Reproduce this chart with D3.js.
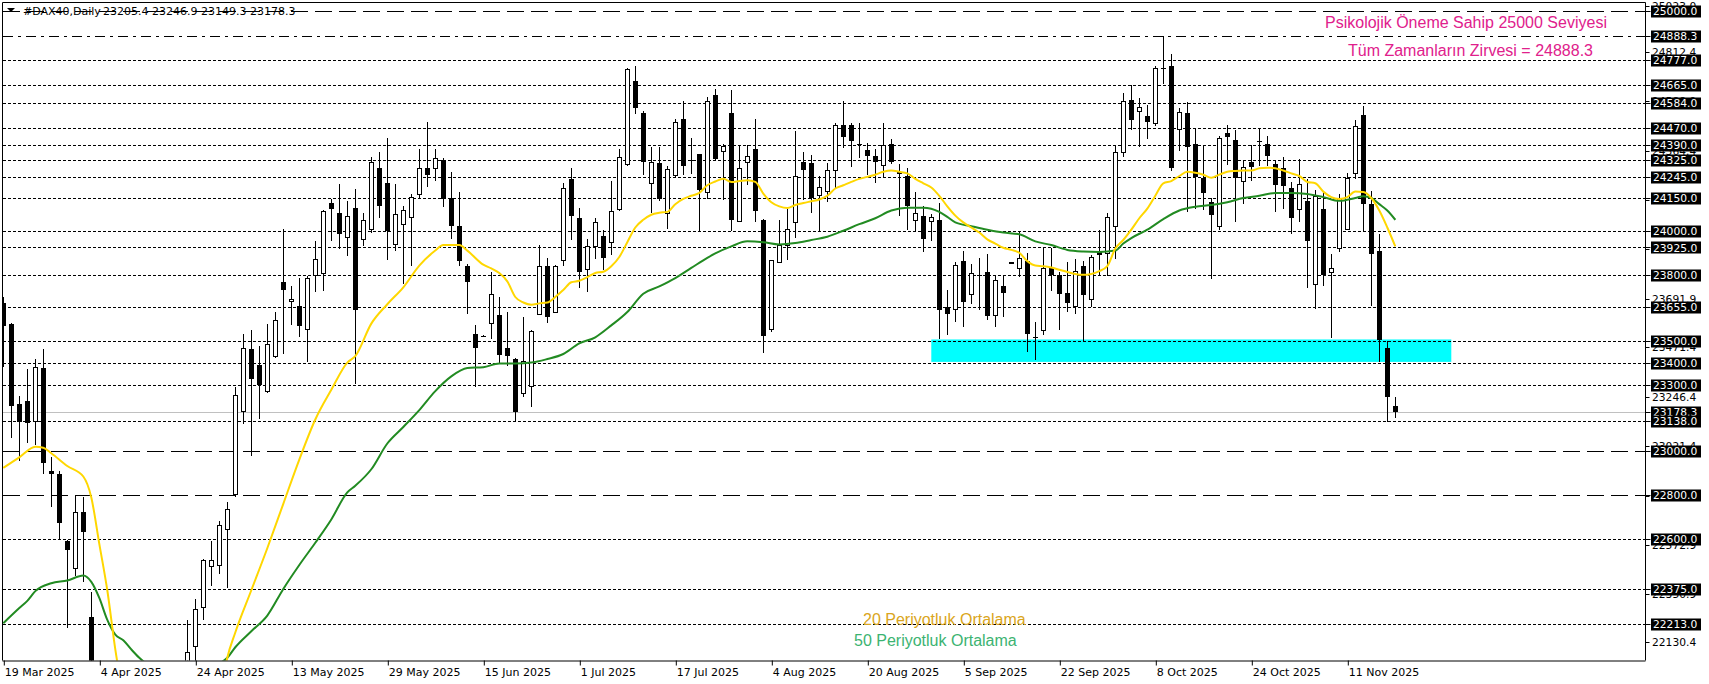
<!DOCTYPE html>
<html><head><meta charset="utf-8">
<script src="https://cdn.jsdelivr.net/npm/d3@7"></script>
<style>body{margin:0;background:#fff}svg{display:block}</style>
</head><body><svg id="c" width="1709" height="684"></svg>
<script>
// ---------- DATA ----------
const openP = [23675,23575,23214,23226,23138,23377,22909,22894,22591,22472,22725,22246,21800,19900,20100,20000,20600,20800,20700,21050,21200,21300,21300,21900,22113,22290,22476,22482,22645,22804,23182,23464,23393,23272,23431,23767,23679,23661,23552,23801,23805,24127,24081,23974,24104,23962,24010,24288,24216,23939,24035,24064,24166,24285,24285,24325,24150,24024,23843,23533,23522,23579,23619,23469,23418,23264,23297,23623,23840,23636,23868,24237,24060,23824,23930,23978,23949,24102,24304,24684,24538,24217,24308,24083,24256,24509,24323,24348,24179,24616,24361,24538,24045,24313,24371,24049,23556,23857,23939,24041,24313,24308,24160,24185,24275,24480,24480,24396,24367,24342,24300,24396,24269,24250,24051,24070,24045,24049,23655,23648,23863,23715,23801,23815,23619,23751,23857,23834,23863,23517,23546,23830,23801,23719,23661,23840,23690,23907,23901,24026,24357,24595,24544,24521,24490,24739,24751,24463,24538,24394,24242,24131,24022,24444,24413,24227,24313,24411,24394,24304,24288,24194,24102,24135,23761,24099,23811,23924,24010,24262,24528,24122,23911,23469,23205.4];
const highP = [23700,23580,23249,23374,23418,23464,22971,22907,22595,22798,22790,22357,21900,20300,20500,20200,21200,20900,21000,21300,21400,21350,21900,22232,22328,22510,22593,22683,22769,23291,23533,23552,23479,23579,23632,24010,23748,23786,23796,23953,24097,24146,24214,24135,24192,24083,24338,24361,24423,24214,24112,24166,24371,24496,24373,24330,24269,24179,23850,23571,23526,23815,23700,23632,23425,23608,23550,23936,23876,23847,24217,24285,24106,23962,24058,24006,24227,24375,24741,24749,24544,24380,24384,24294,24509,24591,24423,24352,24611,24645,24395,24639,24390,24390,24509,24055,23870,24049,24099,24453,24357,24346,24250,24308,24492,24591,24492,24492,24400,24371,24492,24419,24304,24288,24179,24112,24077,24127,23732,23857,23911,23849,23878,23895,23799,23799,23860,23997,23901,23585,23924,23924,23815,23859,23872,23863,23891,24006,24083,24390,24626,24662,24605,24572,24749,24888.3,24806,24557,24588,24467,24390,24150,24434,24482,24457,24319,24390,24467,24432,24317,24336,24223,24327,24237,24185,24179,23897,24166,24262,24505,24567,24183,23987,23498,23246.9];
const lowP = [23383,23057,22955,23038,23028,22894,22744,22601,22194,22434,22403,21700,20600,18500,19900,19250,20300,20200,20600,20900,21050,20900,21250,21850,22030,22232,22386,22443,22376,22792,23124,22976,23147,23262,23425,23441,23575,23517,23406,23725,23728,23955,23920,23888,23306,23934,23991,24058,23868,23911,23757,23840,24150,24198,24227,24108,23964,23843,23623,23291,23517,23508,23402,23387,23138,23245,23201,23617,23581,23636,23843,23959,23742,23725,23872,23824,23891,24093,24294,24530,24256,24083,24135,24010,24242,24256,24260,24001,24146,24323,24141,24001,24039,24208,24039,23445,23540,23853,23868,23968,24141,24083,23997,24131,24193,24377,24290,24333,24256,24217,24240,24304,24070,24006,24001,23905,23953,23508,23527,23585,23565,23667,23642,23594,23565,23609,23853,23790,23450,23412,23527,23728,23552,23632,23623,23502,23655,23796,23796,23872,24338,24461,24380,24419,24476,24668,24275,24365,24087,24102,24097,23780,24006,24298,24039,24122,24227,24294,24294,24087,24102,23987,24039,23742,23646,23751,23512,23905,24006,24237,24001,23661,23406,23130,23149.3];
const closeP = [23569,23201,23134,23124,23383,22946,22894,22671,22549,22725,22635,21780,20650,20050,20280,19670,20560,20370,20950,21250,21310,21200,21850,22088,22280,22505,22505,22664,22737,23255,23469,23329,23303,23487,23594,23732,23690,23569,23786,23874,24089,24100,23987,24070,23642,24049,24313,24116,23997,24077,24097,24156,24285,24252,24331,24150,24022,23866,23771,23469,23520,23713,23437,23431,23176,23408,23546,23840,23610,23843,24194,24070,23815,23930,24039,23876,24089,24338,24735,24563,24313,24313,24145,24281,24496,24294,24317,24183,24591,24327,24386,24051,24288,24342,24087,23521,23868,23936,24010,24252,24275,24150,24198,24279,24480,24427,24409,24392,24342,24317,24390,24313,24260,24112,24083,23964,24064,23642,23623,23847,23675,23809,23797,23613,23776,23719,23857,23878,23531,23514,23830,23796,23715,23675,23818,23709,23882,23891,24064,24361,24591,24505,24563,24492,24739,24735,24288,24540,24384,24246,24173,24070,24423,24425,24240,24290,24288,24407,24338,24208,24208,24058,24214,23955,24160,23799,23830,24150,24240,24476,24122,23897,23508,23245,23178.3];

// moving averages: [bar index, value]
const ma20 = [[0,22923],[2,22971],[4,23019],[5,23015],[6,22990],[8,22932],[10,22884],[11,22789],[12,22578],[13,22367],[14,22098],[15,21880],[16,21650],[18,21300],[20,21050],[22,20950],[24,21100],[26,21550],[27,21850],[28,22060],[29,22175],[31,22367],[33,22558],[35,22760],[37,22961],[39,23143],[41,23278],[43,23402],[44,23431],[46,23579],[48,23667],[50,23744],[52,23843],[54,23911],[55,23936],[57,23936],[58,23911],[60,23847],[61,23830],[62,23809],[63,23771],[64,23700],[65,23675],[66,23665],[67,23671],[68,23675],[69,23700],[70,23732],[71,23767],[72,23774],[73,23790],[74,23809],[75,23815],[76,23840],[77,23882],[78,23949],[79,24016],[80,24051],[81,24074],[82,24083],[83,24087],[84,24122],[85,24146],[86,24160],[87,24173],[88,24208],[89,24225],[90,24237],[91,24223],[92,24227],[93,24231],[94,24223],[95,24170],[96,24131],[97,24112],[98,24104],[99,24118],[100,24127],[101,24135],[102,24143],[103,24160],[104,24193],[105,24208],[106,24223],[107,24237],[108,24246],[109,24256],[110,24269],[111,24275],[112,24269],[113,24262],[114,24237],[115,24217],[116,24198],[117,24160],[118,24112],[119,24070],[120,24039],[121,24016],[122,23993],[123,23962],[124,23943],[125,23924],[126,23914],[127,23901],[128,23863],[129,23843],[130,23840],[131,23834],[132,23824],[133,23814],[134,23805],[135,23801],[136,23805],[137,23818],[138,23840],[139,23920],[140,23959],[141,24006],[142,24058],[143,24102],[144,24160],[145,24217],[146,24227],[147,24250],[148,24269],[149,24265],[150,24256],[151,24242],[152,24256],[153,24269],[154,24273],[155,24275],[156,24275],[157,24285],[158,24288],[159,24285],[160,24275],[161,24262],[162,24250],[163,24223],[164,24217],[165,24179],[166,24154],[167,24146],[168,24154],[169,24179],[170,24177],[171,24150],[172,24093],[173,24016],[174,23930]];
const ma50 = [[0,22217],[2,22286],[3,22319],[4,22363],[6,22399],[8,22411],[10,22434],[11,22405],[12,22332],[13,22232],[14,22165],[15,22140],[16,22098],[17,22060],[18,22030],[20,21995],[22,21980],[24,21990],[26,22020],[28,22060],[29,22108],[31,22181],[33,22252],[35,22373],[37,22482],[39,22583],[41,22689],[43,22812],[44,22842],[46,22917],[48,23034],[50,23109],[52,23186],[54,23272],[56,23339],[58,23377],[60,23381],[62,23398],[64,23398],[66,23402],[68,23418],[70,23441],[72,23489],[74,23517],[76,23571],[78,23632],[80,23715],[82,23748],[84,23786],[86,23832],[88,23878],[89,23898],[91,23930],[93,23953],[95,23949],[97,23939],[99,23945],[101,23959],[103,23974],[105,24001],[107,24031],[109,24058],[111,24093],[113,24106],[115,24106],[117,24087],[118,24064],[119,24039],[121,24022],[123,24006],[125,23993],[127,23985],[129,23953],[131,23936],[133,23914],[135,23907],[137,23905],[139,23911],[140,23943],[141,23968],[143,24006],[145,24054],[147,24093],[149,24110],[151,24118],[153,24131],[155,24150],[157,24160],[159,24173],[161,24173],[163,24168],[165,24154],[167,24137],[169,24150],[170,24158],[171,24150],[172,24122],[173,24093],[174,24051]];

const dateLabels = ["19 Mar 2025","4 Apr 2025","24 Apr 2025","13 May 2025","29 May 2025","15 Jun 2025","1 Jul 2025","17 Jul 2025","4 Aug 2025","20 Aug 2025","5 Sep 2025","22 Sep 2025","8 Oct 2025","24 Oct 2025","11 Nov 2025"];
const dateLabelBars = [0,12,24,36,48,60,72,84,96,108,120,132,144,156,168];

const scaleTicks = [25023.0,24812.4,24588.9,24364.4,24140.9,23916.4,23691.9,23471.4,23246.4,23021.4,22797.4,22572.9,22350.9,22130.4];
const dashedLevels = [25000, 23000, 22800];
const dashDotLevels = [24888.3];
const dottedLevels = [24777,24665,24584,24470,24390,24325,24245,24150,24000,23925,23800,23655,23500,23400,23300,23138,22600,22375,22213];
const lastPrice = 23178.3;
const zoneBars = [116, 181];
const zonePrices = [23405, 23507];

const titleText = "#DAX40,Daily";
const titleValues = "23205.4 23246.9 23149.3 23178.3";
const noteLevel = "Psikolojik Öneme Sahip 25000 Seviyesi";
const noteATH = "Tüm Zamanların Zirvesi = 24888.3";
const noteMA20 = "20 Periyotluk Ortalama";
const noteMA50 = "50 Periyotluk Ortalama";

// ---------- LAYOUT ----------
const L = 2.5, T = 2.5, R = 1645.5, B = 660.5;
const svg = d3.select("#c");
const x = d3.scaleLinear().domain([0, 174]).range([3.3, 1395.3]);
const y = d3.scaleLinear().domain([22000, 25000]).range([671, 11]);
const uiFont = "DejaVu Sans";

svg.append("rect").attr("width",1709).attr("height",684).attr("fill","#fff");
svg.append("defs").append("clipPath").attr("id","plot")
  .append("rect").attr("x",L).attr("y",T).attr("width",R-L).attr("height",B-T);
const g = svg.append("g").attr("clip-path","url(#plot)");

// current price line
g.append("line").attr("x1",L).attr("x2",R)
  .attr("y1",Math.round(y(lastPrice))+0.5).attr("y2",Math.round(y(lastPrice))+0.5)
  .attr("stroke","#c0c0c0").attr("stroke-width",1);

// support zone
g.append("rect")
  .attr("x", x(zoneBars[0])).attr("width", x(zoneBars[1]) - x(zoneBars[0]))
  .attr("y", y(zonePrices[1])).attr("height", y(zonePrices[0]) - y(zonePrices[1]))
  .attr("fill","#00ffff");

function levelLines(vals, dash){
  g.selectAll(null).data(vals).enter().append("line")
    .attr("x1",L).attr("x2",R)
    .attr("y1",d=>Math.round(y(d))+0.5).attr("y2",d=>Math.round(y(d))+0.5)
    .attr("stroke","#000").attr("stroke-width",1).attr("stroke-dasharray",dash)
    .attr("shape-rendering","crispEdges");
}
levelLines(dottedLevels,"3,2");
levelLines(dashedLevels,"17,7");
levelLines(dashDotLevels,"10,5,3,5");

// candles
const idx = d3.range(openP.length);
const cg = g.append("g");
cg.selectAll("line.w").data(idx).enter().append("line")
  .attr("x1",i=>Math.round(x(i))+0.5).attr("x2",i=>Math.round(x(i))+0.5)
  .attr("y1",i=>y(highP[i])).attr("y2",i=>y(lowP[i]))
  .attr("stroke","#000").attr("stroke-width",1).attr("shape-rendering","crispEdges");
cg.selectAll("rect.b").data(idx).enter().append("rect")
  .attr("x",i=> closeP[i]>=openP[i] ? Math.round(x(i))-1.5 : Math.round(x(i))-2)
  .attr("width",i=> closeP[i]>=openP[i] ? 4 : 5)
  .attr("y",i=>{const t=y(Math.max(openP[i],closeP[i])); return closeP[i]>=openP[i]? Math.round(t)+0.5 : Math.round(t);})
  .attr("height",i=>{const h=Math.abs(y(openP[i])-y(closeP[i])); return closeP[i]>=openP[i]? Math.max(1,Math.round(h)) : Math.max(1,Math.round(h));})
  .attr("fill",i=> closeP[i]>=openP[i] ? "#fff" : "#000")
  .attr("stroke",i=> closeP[i]>=openP[i] ? "#000" : "none")
  .attr("stroke-width",1).attr("shape-rendering","crispEdges");

// moving averages
const lineGen = d3.line().x(d=>x(d[0])).y(d=>y(d[1])).curve(d3.curveMonotoneX);
g.append("path").datum(ma50).attr("d",lineGen).attr("fill","none").attr("stroke","#228b22").attr("stroke-width",2);
g.append("path").datum(ma20).attr("d",lineGen).attr("fill","none").attr("stroke","#ffd700").attr("stroke-width",2);

// frame
svg.append("line").attr("x1",L).attr("x2",L).attr("y1",T).attr("y2",B).attr("stroke","#000");
svg.append("line").attr("x1",L).attr("x2",R).attr("y1",T).attr("y2",T).attr("stroke","#000");

// bottom axis
const xAxis = d3.axisBottom(x).tickValues(dateLabelBars).tickSize(5).tickSizeOuter(0)
  .tickFormat((d,k)=>dateLabels[k]);
const ax = svg.append("g").attr("transform",`translate(0,${B})`).call(xAxis);
ax.select(".domain").attr("d",`M${L},0.5H${R}`).attr("stroke","#000");
ax.selectAll(".tick line").attr("stroke","#000").attr("transform","translate(0.5,0)");
ax.selectAll(".tick text").attr("text-anchor","start").attr("x",1).attr("y",8)
  .attr("font-family",uiFont).attr("font-size","11px").attr("fill","#000");

// right axis
svg.append("line").attr("x1",R).attr("x2",R).attr("y1",T).attr("y2",B).attr("stroke","#000");
const ra = svg.append("g");
ra.selectAll("line.t").data(scaleTicks).enter().append("line")
  .attr("x1",R).attr("x2",R+4).attr("y1",d=>Math.round(y(d))+0.5).attr("y2",d=>Math.round(y(d))+0.5)
  .attr("stroke","#000");
ra.selectAll("text.s").data(scaleTicks).enter().append("text")
  .attr("x",1652).attr("y",d=>y(d)).attr("dy","0.36em")
  .attr("font-family",uiFont).attr("font-size","10.7px").attr("fill","#000")
  .text(d=>d.toFixed(1));

const boxVals = [lastPrice].concat(dashedLevels, dashDotLevels, dottedLevels);
const bx = ra.selectAll("g.box").data(boxVals).enter().append("g");
bx.append("line").attr("x1",R).attr("x2",R+5).attr("y1",d=>Math.round(y(d))+0.5).attr("y2",d=>Math.round(y(d))+0.5).attr("stroke","#000");
bx.append("rect").attr("x",1651).attr("width",50).attr("y",d=>Math.round(y(d))-5.5).attr("height",12).attr("fill","#000");
bx.append("text").attr("x",1653).attr("y",d=>y(d)).attr("dy","0.38em")
  .attr("font-family",uiFont).attr("font-size","10.7px").attr("fill","#fff")
  .text(d=>d.toFixed(1));

// title
svg.append("path").attr("d","M7,8 L15,8 L11,12 Z").attr("fill","#000");
svg.append("text").attr("x",23).attr("y",15).attr("font-family",uiFont).attr("font-size","11px").attr("fill","#000").text(titleText);
svg.append("text").attr("x",103).attr("y",15).attr("font-family",uiFont).attr("font-size","11px").attr("fill","#000").text(titleValues);

// annotations
const noteFont = "Liberation Sans, Arial, sans-serif";
svg.append("text").attr("x",1325).attr("y",28).attr("font-family",noteFont).attr("font-size","16px").attr("fill","#e0208c").text(noteLevel);
svg.append("text").attr("x",1348).attr("y",56).attr("font-family",noteFont).attr("font-size","16px").attr("fill","#e0208c").text(noteATH);
svg.append("text").attr("x",863).attr("y",625).attr("font-family",noteFont).attr("font-size","16px").attr("fill","#daa520").text(noteMA20);
svg.append("text").attr("x",854).attr("y",646).attr("font-family",noteFont).attr("font-size","16px").attr("fill","#3cb371").text(noteMA50);
</script>
</body></html>
